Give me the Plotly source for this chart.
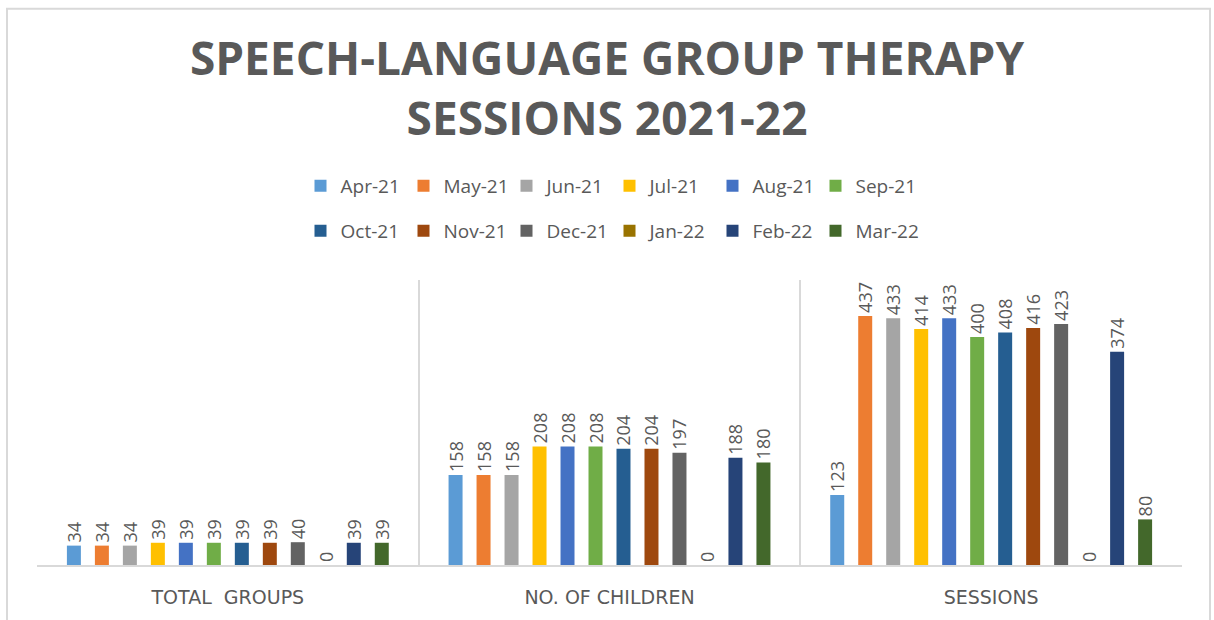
import plotly.graph_objects as go

categories = ["TOTAL  GROUPS", "NO. OF CHILDREN", "SESSIONS"]
months = ["Apr-21", "May-21", "Jun-21", "Jul-21", "Aug-21", "Sep-21",
          "Oct-21", "Nov-21", "Dec-21", "Jan-22", "Feb-22", "Mar-22"]
total_groups = [34, 34, 34, 39, 39, 39, 39, 39, 40, 0, 39, 39]
no_of_children = [158, 158, 158, 208, 208, 208, 204, 204, 197, 0, 188, 180]
sessions = [123, 437, 433, 414, 433, 400, 408, 416, 423, 0, 374, 80]
colors = ["#5B9BD5", "#ED7D31", "#A5A5A5", "#FFC000", "#4472C4", "#70AD47",
          "#255E91", "#9E480E", "#636363", "#997300", "#264478", "#43682B"]

GRAY = "#595959"
W, H = 1214, 620
L, R, T, B = 37, 32, 280, 52
PW, PH = W - L - R, H - T - B


def px_x(x):
    return (x - L) / PW


def px_y(y):
    return (H - B - y) / PH


fig = go.Figure()
for i, m in enumerate(months):
    vals = [total_groups[i], no_of_children[i], sessions[i]]
    fig.add_trace(go.Bar(
        x=categories, y=vals, name=m,
        marker=dict(color=colors[i], line=dict(width=0)),
        text=[str(v) for v in vals], textposition="outside", textangle=-90,
        textfont=dict(family="Open Sans", size=18, color=GRAY),
        constraintext="none", cliponaxis=False,
        legend="legend" if i < 6 else "legend2",
    ))

leg_common = dict(orientation="h", xanchor="center", x=0.5, yanchor="middle",
                  yref="container",
                  font=dict(family="Open Sans", size=19, color=GRAY),
                  entrywidth=58, entrywidthmode="pixels", itemwidth=30,
                  bgcolor="rgba(0,0,0,0)")

fig.update_layout(
    width=W, height=H,
    margin=dict(l=L, r=R, t=T, b=B),
    paper_bgcolor="white", plot_bgcolor="white",
    barmode="group", bargap=0.12, bargroupgap=0.5,
    title=dict(text="SPEECH-LANGUAGE GROUP THERAPY<br>SESSIONS 2021-22",
               x=0.5, xanchor="center", y=1 - 75 / H, yanchor="top",
               font=dict(family="Open Sans", size=46, color=GRAY, weight="bold")),
    legend=dict(y=1 - 186 / H, **leg_common),
    legend2=dict(y=1 - 231 / H, **leg_common),
    xaxis=dict(tickson="boundaries", showgrid=True, gridcolor="#D9D9D9", gridwidth=1.5,
               ticks="", showline=True, linecolor="#D9D9D9", linewidth=1.5,
               ticklabelstandoff=14,
               tickfont=dict(family="DejaVu Sans", size=19, color=GRAY)),
    yaxis=dict(range=[0, 500], showgrid=False, showticklabels=False, zeroline=False,
               showline=False, ticks=""),
    shapes=[dict(type="rect", xref="paper", yref="paper",
                 x0=px_x(7), x1=px_x(1210), y0=px_y(640), y1=px_y(6),
                 line=dict(color="#D9D9D9", width=2), fillcolor="rgba(0,0,0,0)", layer="below")],
)

fig.write_html("out.html", config={"displayModeBar": False},
               post_script="document.body.style.margin='0';")
